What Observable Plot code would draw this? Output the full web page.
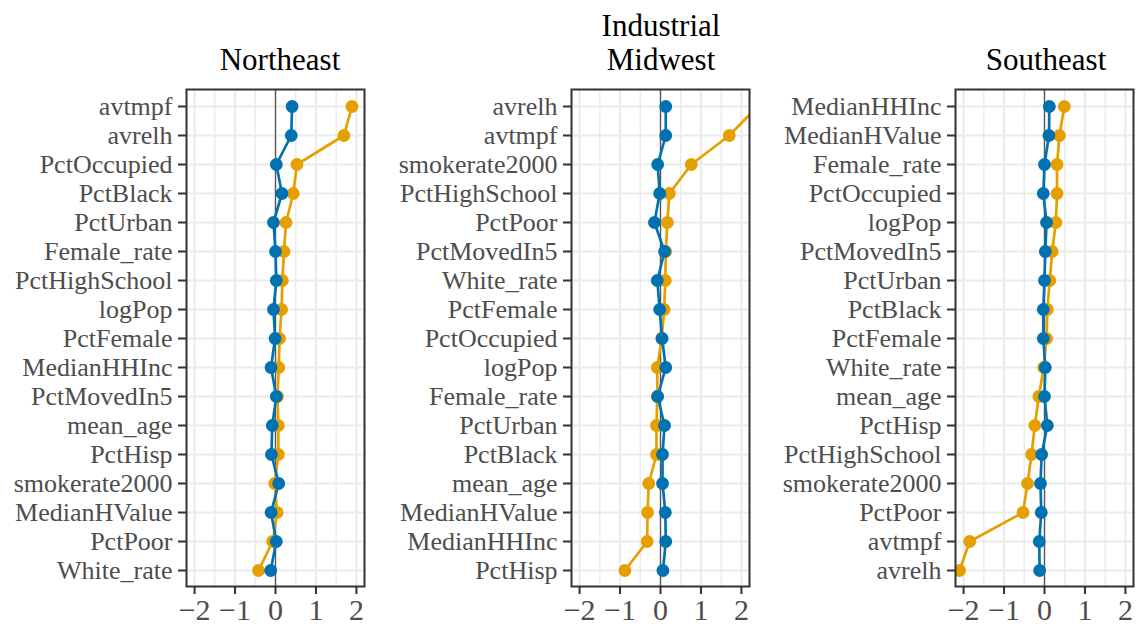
<!DOCTYPE html>
<html>
<head>
<meta charset="utf-8">
<script src="https://cdn.jsdelivr.net/npm/d3@7"></script>
<script src="https://cdn.jsdelivr.net/npm/@observablehq/plot@0.6"></script>
<style>
  html, body { margin: 0; padding: 0; background: #ffffff; }
  #chart { position: relative; width: 1138px; height: 627px; overflow: hidden; font-family: "Liberation Serif", "Times New Roman", serif; }
  #chart svg { position: absolute; top: 0; }
  .title { position: absolute; font-size: 31px; line-height: 34px; color: #000; text-align: center; width: 300px; white-space: pre; }
</style>
</head>
<body>
<div id="chart"></div>
<script>
// ---- Data ----
const regions = ["Northeast", "Industrial\nMidwest", "Southeast"];

const neCategories = ["avtmpf","avrelh","PctOccupied","PctBlack","PctUrban","Female_rate","PctHighSchool","logPop","PctFemale","MedianHHInc","PctMovedIn5","mean_age","PctHisp","smokerate2000","MedianHValue","PctPoor","White_rate"];
const neBlue   = [0.41, 0.39, 0.02, 0.16, -0.05, 0.00, 0.02, -0.05, -0.01, -0.11, 0.02, -0.08, -0.10, 0.08, -0.11, 0.02, -0.12];
const neOrange = [1.89, 1.69, 0.53, 0.44, 0.26, 0.21, 0.17, 0.15, 0.10, 0.08, 0.05, 0.07, 0.07, -0.02, 0.04, -0.07, -0.42];

const mwCategories = ["avrelh","avtmpf","smokerate2000","PctHighSchool","PctPoor","PctMovedIn5","White_rate","PctFemale","PctOccupied","logPop","Female_rate","PctUrban","PctBlack","mean_age","MedianHValue","MedianHHInc","PctHisp"];
const mwBlue   = [0.13, 0.13, -0.07, -0.02, -0.15, 0.10, -0.08, -0.02, 0.04, 0.13, -0.07, 0.10, 0.05, 0.05, 0.12, 0.13, 0.06];
const mwOrange = [2.40, 1.70, 0.76, 0.22, 0.17, 0.13, 0.12, 0.09, 0.03, -0.08, -0.08, -0.10, -0.10, -0.29, -0.32, -0.33, -0.88];

const seCategories = ["MedianHHInc","MedianHValue","Female_rate","PctOccupied","logPop","PctMovedIn5","PctUrban","PctBlack","PctFemale","White_rate","mean_age","PctHisp","PctHighSchool","smokerate2000","PctPoor","avtmpf","avrelh"];
const seBlue   = [0.12, 0.11, 0.00, -0.03, 0.05, 0.02, 0.00, -0.03, -0.03, 0.02, 0.00, 0.07, -0.07, -0.10, -0.08, -0.13, -0.12];
const seOrange = [0.49, 0.37, 0.31, 0.31, 0.28, 0.19, 0.13, 0.07, 0.05, -0.02, -0.14, -0.24, -0.32, -0.42, -0.53, -1.85, -2.10];

const xMajor = [-2, -1, 0, 1, 2];
const xMinor = [-1.5, -0.5, 0.5, 1.5];
const xDomain = [-2.2, 2.2];
const blueColor = "#0072B2";
const orangeColor = "#E69F00";

// ---- Layout ----
const panels = [
  {title: regions[0], cats: neCategories, blue: neBlue, orange: neOrange, frameLeft: 186, marginLeft: 186, marginRight: 10, titleX: 280},
  {title: regions[1], cats: mwCategories, blue: mwBlue, orange: mwOrange, frameLeft: 571, marginLeft: 180, marginRight: 10, titleX: 661},
  {title: regions[2], cats: seCategories, blue: seBlue, orange: seOrange, frameLeft: 955, marginLeft: 180, marginRight: 5, titleX: 1046}
];
const frameWidth = 178;
const H = 627, MT = 89, MB = 41;
const fmt = d => d < 0 ? "\u2212" + Math.abs(d) : String(d);

const chart = document.getElementById("chart");

for (const p of panels) {
  const blueData = p.cats.map((c, i) => ({cat: c, value: p.blue[i]}));
  const orangeData = p.cats.map((c, i) => ({cat: c, value: p.orange[i]}));
  const svg = Plot.plot({
    width: p.marginLeft + frameWidth + p.marginRight,
    height: H,
    marginTop: MT,
    marginBottom: MB,
    marginLeft: p.marginLeft,
    marginRight: p.marginRight,
    style: {fontFamily: '"Liberation Serif", "Times New Roman", serif', background: "transparent", overflow: "visible"},
    x: {domain: xDomain, label: null},
    y: {type: "point", domain: p.cats, padding: 0.56, label: null},
    marks: [
      Plot.gridX(xMinor, {stroke: "#ebebeb", strokeOpacity: 1, strokeWidth: 1.4}),
      Plot.gridX(xMajor, {stroke: "#ebebeb", strokeOpacity: 1, strokeWidth: 2.2}),
      Plot.gridY(p.cats, {stroke: "#ebebeb", strokeOpacity: 1, strokeWidth: 2.2}),
      Plot.ruleX([0], {stroke: "#555555", strokeWidth: 1.3}),
      Plot.line(orangeData, {x: "value", y: "cat", stroke: orangeColor, strokeWidth: 2.7, clip: true}),
      Plot.line(blueData, {x: "value", y: "cat", stroke: blueColor, strokeWidth: 2.7, clip: true}),
      Plot.dot(orangeData, {x: "value", y: "cat", fill: orangeColor, r: 6.4, clip: true}),
      Plot.dot(blueData, {x: "value", y: "cat", fill: blueColor, r: 6.4, clip: true}),
      Plot.frame({stroke: "#333333", strokeWidth: 2}),
      Plot.axisX(xMajor, {tickFormat: fmt, tickSize: 8, tickPadding: 4, fontSize: 30, fill: "#4d4d4d", stroke: "#333333", strokeWidth: 2, label: null}),
      Plot.axisY(p.cats, {tickSize: 8, tickPadding: 6, fontSize: 26, fill: "#4d4d4d", stroke: "#333333", strokeWidth: 2, label: null})
    ]
  });
  svg.style.left = (p.frameLeft - p.marginLeft) + "px";
  chart.appendChild(svg);

  const t = document.createElement("div");
  t.className = "title";
  t.textContent = p.title;
  const lines = p.title.split("\n").length;
  t.style.left = (p.titleX - 150) + "px";
  t.style.top = (70 - 27.5 - 34 * (lines - 1)) + "px";
  chart.appendChild(t);
}
</script>
</body>
</html>
